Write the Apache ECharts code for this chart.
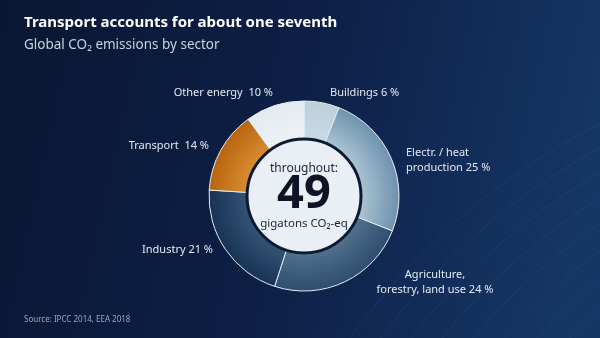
<!DOCTYPE html>
<html><head><meta charset="utf-8">
<script src="https://cdn.jsdelivr.net/npm/echarts@6/dist/echarts.min.js"></script>
<style>html,body{margin:0;padding:0;background:#0b1a3a}#c{width:600px;height:338px}</style>
</head><body><div id="c"></div>
<script>
const sectors = ['Buildings', 'Electr. / heat\nproduction', 'Agriculture,\nforestry, land use', 'Industry', 'Transport', 'Other energy'];
const shares = [6, 25, 24, 21, 14, 10];
const totalGt = 49;
const title = 'Transport accounts for about one seventh';
const subtitle = 'Global CO₂ emissions by sector';
const source = 'Source: IPCC 2014, EEA 2018';

const CX = 304, CY = 196, R = 95;
function rg(inner, outer) {
  return {type: 'radial', x: CX, y: CY, r: R, global: true,
    colorStops: [{offset: 0.55, color: inner}, {offset: 1, color: outer}]};
}
const colors = [
  rg('#c9dbe6', '#bcd0dc'),
  rg('#b3c9d8', '#6e92ae'),
  rg('#557592', '#2f4d6e'),
  rg('#37587a', '#183354'),
  rg('#dc9236', '#b8640f'),
  rg('#eef3f7', '#e3eaf0')
];
const labelPos = [
  {x: 330, y: 93, align: 'left'},
  {x: 406, y: 160, align: 'left'},
  {x: 435, y: 282, align: 'center'},
  {x: 213, y: 250, align: 'right'},
  {x: 209, y: 146, align: 'right'},
  {x: 273, y: 93, align: 'right'}
];
const sep = [' ', ' ', ' ', ' ', '  ', '  '];

const chart = echarts.init(document.getElementById('c'), null, {renderer: 'canvas'});
const arcs = [];
for (let i = 0; i < 14; i++) {
  arcs.push({type: 'circle', silent: true, z: -1,
    shape: {cx: 1000 - i * 6, cy: 700 + i * 4, r: 420 + i * 22},
    style: {fill: 'none', stroke: 'rgba(160,190,230,0.07)', lineWidth: 1}});
}
chart.setOption({
  backgroundColor: {type: 'linear', x: 0, y: 0, x2: 1, y2: 0.4,
    colorStops: [{offset: 0, color: '#0a1733'}, {offset: 0.5, color: '#0d1f45'}, {offset: 1, color: '#163666'}]},
  graphic: arcs.concat([
    {type: 'text', left: 24, top: 15, style: {text: title, fill: '#ffffff', font: 'bold 15px "Noto Sans"'}},
    {type: 'text', left: 24, top: 38, style: {text: subtitle, fill: '#c8d3e0', font: '13.5px "Noto Sans"'}},
    {type: 'text', left: 24, top: 316, style: {text: source, fill: '#9aa8bb', font: '8px "Noto Sans"'}},
    {type: 'text', x: CX, y: 169, z: 10, style: {text: 'throughout:', fill: '#1a2438', font: '12px "Noto Sans"', align: 'center', verticalAlign: 'middle'}},
    {type: 'text', x: CX, y: 195, z: 10, style: {text: String(totalGt), fill: '#0d1424', font: 'bold 47px "Noto Sans"', align: 'center', verticalAlign: 'middle'}},
    {type: 'text', x: CX, y: 224, z: 10, style: {text: 'gigatons CO₂-eq', fill: '#1a2438', font: '11.5px "Noto Sans"', align: 'center', verticalAlign: 'middle'}}
  ]),
  series: [{
    type: 'pie', center: [CX, CY], radius: [57, R], startAngle: 90, clockwise: true,
    silent: true, animation: false,
    itemStyle: {borderColor: '#e6eef4', borderWidth: 1},
    label: {
      show: true, position: 'outside', color: '#e4ebf2', fontSize: 11, fontFamily: 'Noto Sans', lineHeight: 15,
      formatter: p => p.name + sep[p.dataIndex] + p.value + ' %'
    },
    labelLine: {show: false},
    labelLayout: p => Object.assign({verticalAlign: 'middle', draggable: false}, labelPos[p.dataIndex]),
    data: sectors.map((s, i) => ({name: s, value: shares[i], itemStyle: {color: colors[i]}}))
  }, {
    type: 'pie', center: [CX, CY], radius: [0, 57], silent: true, animation: false, z: 3,
    label: {show: false}, labelLine: {show: false},
    itemStyle: {color: '#e9eff4', borderColor: '#0d1a33', borderWidth: 3},
    data: [{name: 'total', value: totalGt}]
  }]
});
</script></body></html>
